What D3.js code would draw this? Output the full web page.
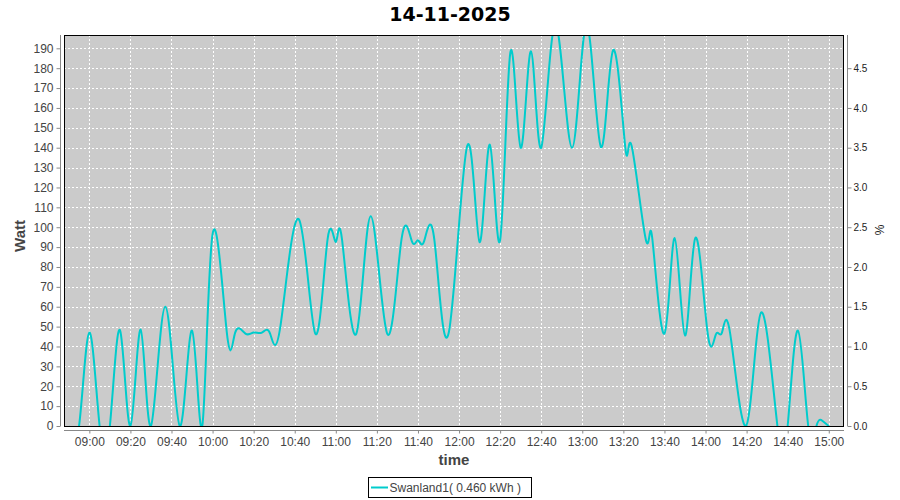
<!DOCTYPE html>
<html>
<head>
<meta charset="utf-8">
<script src="https://cdn.jsdelivr.net/npm/d3@7"></script>
<style>
  body { margin: 0; background: #fff; }
</style>
</head>
<body>
<script>
// sample times and power readings (Watt)
const times = ["08:50","08:55","09:00","09:05","09:10","09:15","09:20","09:25","09:30","09:37",
  "09:44","09:50","09:55","10:00","10:07","10:11","10:16","10:20","10:24","10:28",
  "10:33","10:42","10:50","10:56","11:00","11:03","11:10","11:17","11:25","11:32",
  "11:37","11:40","11:43","11:48","11:55","12:04","12:10","12:15","12:20","12:25",
  "12:30","12:35","12:40","12:47","12:55","13:02","13:09","13:15","13:21","13:24",
  "13:31","13:34","13:40","13:45","13:50","13:55","14:01","14:05","14:08","14:12",
  "14:20","14:27","14:35","14:40","14:45","14:50","14:54","14:57","15:00"];
const watts = [0,0,47,0,0,48,0,48.5,0,60,
  0,48,0,96.5,46.5,47,46.5,47,47,46.5,
  50,104,46.5,94,92.5,94,46.5,105.5,46.5,94,
  93,93.5,93,93.5,47,141,92.5,141.5,93.5,188,
  140,188.5,140,202,140,202,140.5,189,139.5,141,
  93.5,95,46.5,94.5,45.5,94.5,47,46,47,46.5,
  0.5,57,0,0,48,0,0,2.5,0];

const wattTicks = d3.range(0, 191, 10);
const pctTicks = d3.range(0, 4.51, 0.5);
const title = "14-11-2025";
const seriesName = "Swanland1( 0.460 kWh )";

const width = 900,
    height = 500;

const pLeft = 64, pRight = 844, pTop = 35, pBottom = 426;
const lineColor = "#00cccc";

const parse = d3.timeParse("%H:%M:%S");
const data = times.map((t, i) => ({ t: parse(t + ":00"), v: watts[i] }));

const svg = d3.select("body").append("svg")
    .attr("width", width)
    .attr("height", height)
    .style("font-family", "'Liberation Sans', Arial, sans-serif");

svg.append("rect").attr("width", width).attr("height", height).attr("fill", "#fff");

const x = d3.scaleTime()
    .domain([parse("08:47:40"), parse("15:07:25")])
    .range([pLeft, pRight]);

const y = d3.scaleLinear().domain([0, 196.7]).range([pBottom, pTop]);
const y2 = d3.scaleLinear().domain([0, 196.7 / 40]).range([pBottom, pTop]);

const timeTicks = x.ticks(d3.timeMinute.every(20));

// plot background
svg.append("rect")
    .attr("x", pLeft).attr("y", pTop)
    .attr("width", pRight - pLeft).attr("height", pBottom - pTop)
    .attr("fill", "#cbcbcb");

// grid
const grid = svg.append("g").attr("stroke", "#fff").attr("stroke-dasharray", "2,2").attr("stroke-width", 1);
grid.selectAll(".h").data(wattTicks.filter(d => d > 0)).enter().append("line")
    .attr("x1", pLeft).attr("x2", pRight)
    .attr("y1", d => Math.round(y(d)) + 0.5).attr("y2", d => Math.round(y(d)) + 0.5);
grid.selectAll(".v").data(timeTicks).enter().append("line")
    .attr("y1", pTop).attr("y2", pBottom)
    .attr("x1", d => Math.round(x(d)) + 0.5).attr("x2", d => Math.round(x(d)) + 0.5);

// series
svg.append("clipPath").attr("id", "clip")
  .append("rect").attr("x", pLeft).attr("y", pTop).attr("width", pRight - pLeft).attr("height", pBottom - pTop);

const line = d3.line()
    .x(d => x(d.t))
    .y(d => y(d.v))
    .curve(d3.curveNatural);

svg.append("path")
    .datum(data)
    .attr("clip-path", "url(#clip)")
    .attr("fill", "none")
    .attr("stroke", lineColor)
    .attr("stroke-width", 2)
    .attr("d", line);

// plot border
svg.append("rect")
    .attr("x", pLeft + 0.5).attr("y", pTop + 0.5)
    .attr("width", pRight - pLeft - 1).attr("height", pBottom - pTop)
    .attr("fill", "none").attr("stroke", "#000");

// left axis
const yAxis = svg.append("g")
    .attr("transform", "translate(60.5,0)")
    .call(d3.axisLeft(y).tickValues(wattTicks).tickSize(4).tickSizeOuter(0).tickPadding(3));
yAxis.select(".domain").attr("stroke", "#888").attr("d", `M0,${pTop}V${pBottom}`);
yAxis.selectAll(".tick line").attr("stroke", "#888");
yAxis.selectAll("text").attr("fill", "#444").style("font-size", "12px").style("font-family", "'Liberation Sans', Arial, sans-serif");

// right axis
const y2Axis = svg.append("g")
    .attr("transform", "translate(847.5,0)")
    .call(d3.axisRight(y2).tickValues(pctTicks).tickFormat(d3.format(".1f")).tickSize(4).tickSizeOuter(0).tickPadding(2));
y2Axis.select(".domain").attr("stroke", "#888").attr("d", `M0,${pTop}V${pBottom}`);
y2Axis.selectAll(".tick line").attr("stroke", "#888");
y2Axis.selectAll("text").attr("fill", "#222").style("font-size", "10px").style("font-family", "'Liberation Sans', Arial, sans-serif");

// bottom axis
const xAxis = svg.append("g")
    .attr("transform", "translate(0,430.5)")
    .call(d3.axisBottom(x).tickValues(timeTicks).tickFormat(d3.timeFormat("%H:%M")).tickSize(3).tickSizeOuter(0).tickPadding(4));
xAxis.select(".domain").attr("stroke", "#888").attr("d", `M${pLeft},0H${pRight}`);
xAxis.selectAll(".tick line").attr("stroke", "#888");
xAxis.selectAll("text").attr("fill", "#444").style("font-size", "12px").style("font-family", "'Liberation Sans', Arial, sans-serif");

// titles
svg.append("text")
    .attr("x", 450).attr("y", 21)
    .attr("text-anchor", "middle")
    .style("font-family", "'DejaVu Sans', sans-serif")
    .style("font-weight", "bold")
    .style("font-size", "19px")
    .attr("fill", "#000")
    .text(title);

svg.append("text")
    .attr("x", 454).attr("y", 465)
    .attr("text-anchor", "middle")
    .style("font-weight", "bold")
    .style("font-size", "15px")
    .attr("fill", "#444")
    .text("time");

svg.append("text")
    .attr("transform", "translate(25,236) rotate(-90)")
    .attr("text-anchor", "middle")
    .style("font-weight", "bold")
    .style("font-size", "15px")
    .attr("fill", "#444")
    .text("Watt");

svg.append("text")
    .attr("transform", "translate(884,230) rotate(-90)")
    .attr("text-anchor", "middle")
    .style("font-size", "12px")
    .attr("fill", "#222")
    .text("%");

// legend
const legend = svg.append("g");
legend.append("rect")
    .attr("x", 368.5).attr("y", 477.5)
    .attr("width", 163).attr("height", 20)
    .attr("fill", "#fff").attr("stroke", "#000");
legend.append("line")
    .attr("x1", 371).attr("x2", 388)
    .attr("y1", 487.5).attr("y2", 487.5)
    .attr("stroke", lineColor).attr("stroke-width", 2);
legend.append("text")
    .attr("x", 389.5).attr("y", 492)
    .style("font-size", "12px")
    .attr("fill", "#444")
    .text(seriesName);
</script>
</body>
</html>
